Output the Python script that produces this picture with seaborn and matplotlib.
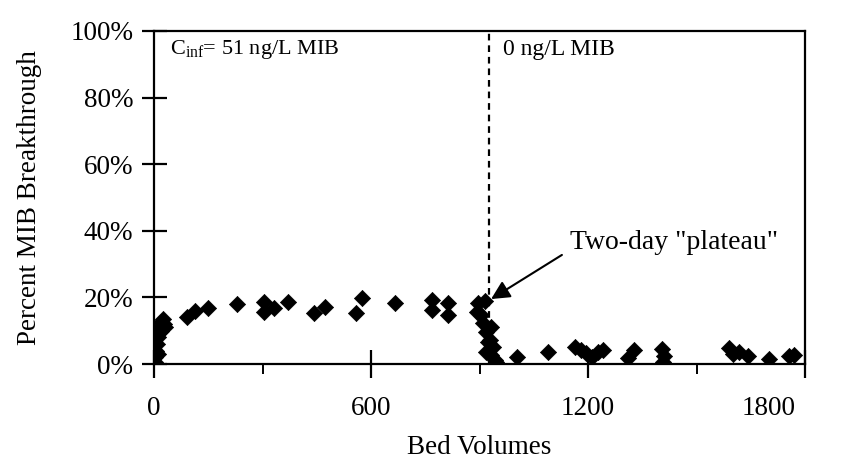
import matplotlib
matplotlib.use("Agg")
import matplotlib.pyplot as plt
import matplotlib.transforms as mtransforms
from matplotlib.ticker import FixedLocator, FuncFormatter
import seaborn as sns
import pandas as pd

# Bed volumes treated and percent MIB breakthrough (C/C0, %)
bed_volumes = [
    2, 4, 6, 8, 10, 12, 14, 16, 18, 20, 24, 28, 30,
    90, 113, 149, 230, 305, 305, 332, 371, 443, 472,
    559, 574, 667, 768, 768, 812, 812,
    896, 892, 905, 910, 914, 919, 919, 923, 928, 933, 933, 937, 942, 946,
    1004, 1090, 1165, 1180, 1195, 1210, 1228, 1242,
    1310, 1328, 1405, 1410, 1408,
    1590, 1602, 1618, 1642, 1700, 1755, 1770,
]
percent_breakthrough = [
    0.5, 2.0, 4.0, 6.0, 3.0, 8.0, 9.5, 11.0, 10.0, 12.5, 13.5, 12.0, 11.0,
    14.0, 16.0, 16.7, 18.0, 18.7, 15.7, 16.7, 18.5, 15.4, 17.0,
    15.4, 19.9, 18.2, 19.2, 16.2, 18.4, 14.7,
    18.2, 15.7, 14.7, 12.3, 19.0, 9.7, 3.7, 6.7, 7.2, 2.7, 11.2, 5.2, 1.2, 0.5,
    2.2, 3.5, 5.2, 4.2, 3.2, 2.2, 3.5, 4.2,
    1.7, 4.2, 4.5, 2.5, 0.5,
    4.8, 3.0, 3.5, 2.5, 1.5, 2.3, 2.8,
]

x_ticks = [0, 600, 1200, 1800]
x_minor = [300, 900, 1500]
y_ticks = [0, 20, 40, 60, 80, 100]
influent_switch = 925

df = pd.DataFrame({"Bed Volumes": bed_volumes,
                   "Percent MIB Breakthrough": percent_breakthrough})

sns.set_theme(style="white")
plt.rcParams["font.family"] = ["Liberation Serif", "DejaVu Serif"]
plt.rcParams["mathtext.fontset"] = "custom"
plt.rcParams["mathtext.rm"] = "Liberation Serif"

fig = plt.figure(figsize=(8.41, 4.67), dpi=100)
ax = fig.add_axes([154 / 841, 1 - 364 / 467, (805 - 154) / 841, (364 - 31) / 467])

sns.scatterplot(data=df, x="Bed Volumes", y="Percent MIB Breakthrough",
                marker="D", s=68, color="black", edgecolor="black",
                linewidth=0.5, ax=ax, zorder=3)

ax.axvline(influent_switch, color="black", linestyle=(0, (3, 2.2)),
           linewidth=1.6, zorder=2)

ax.set_xlim(0, 1800)
ax.set_ylim(0, 100)
ax.xaxis.set_major_locator(FixedLocator(x_ticks))
ax.xaxis.set_minor_locator(FixedLocator(x_minor))
ax.yaxis.set_major_locator(FixedLocator(y_ticks))
ax.yaxis.set_major_formatter(FuncFormatter(lambda v, _: f"{v:.0f}%"))

for sp in ax.spines.values():
    sp.set_color("black")
    sp.set_linewidth(1.6)

ax.tick_params(axis="x", which="major", direction="inout", length=20,
               width=1.6, color="black", labelsize=19.5, pad=13,
               bottom=True, labelcolor="black")
ax.tick_params(axis="x", which="minor", direction="out", length=7,
               width=1.4, color="black", bottom=True)
ax.tick_params(axis="y", which="major", direction="inout", length=18,
               width=1.6, color="black", labelsize=19.5, pad=6,
               left=True, labelcolor="black")

ax.set_xlabel("Bed Volumes", fontsize=19.5, color="black", labelpad=10)
ax.set_ylabel("Percent MIB Breakthrough", fontsize=19.5, color="black",
              labelpad=20)

# pull the last x tick label in so it stays clear of the right edge
fig.canvas.draw()
last_label = ax.get_xticklabels()[-1]
last_label.set_transform(last_label.get_transform() +
                         mtransforms.ScaledTranslation(-0.36, 0, fig.dpi_scale_trans))

ax.text(45, 94.5, r"C$_\mathregular{inf}$= 51 ng/L MIB", fontsize=16,
        ha="left", va="center", color="black")
ax.text(966, 94.5, "0 ng/L MIB", fontsize=17, ha="left", va="center",
        color="black")

ax.annotate('Two-day "plateau"', xy=(932, 19.5), xytext=(1150, 36.5),
            fontsize=20, ha="left", va="center", color="black",
            arrowprops=dict(arrowstyle="-|>", color="black", lw=1.5,
                            mutation_scale=28, shrinkA=4, shrinkB=0,
                            relpos=(0.0, 0.2)))

fig.savefig("out.png", dpi=100)
